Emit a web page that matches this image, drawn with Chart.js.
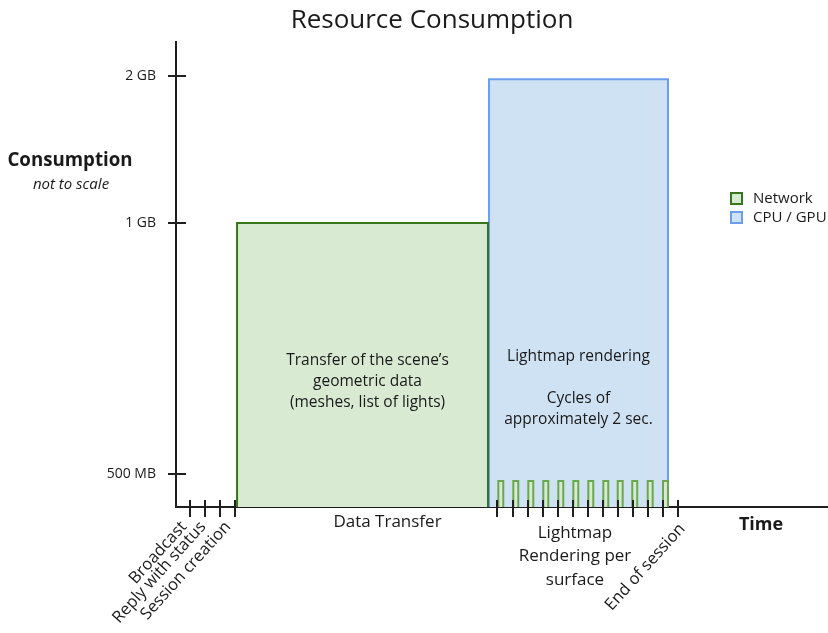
<!DOCTYPE html>
<html>
<head>
<meta charset="utf-8">
<title>Resource Consumption</title>
<script src="https://cdn.jsdelivr.net/npm/chart.js@4.4.1/dist/chart.umd.min.js"></script>
<style>
  html, body { margin: 0; padding: 0; background: #fff; }
  #wrap { width: 828px; height: 633px; position: relative; }
</style>
</head>
<body>
<div id="wrap"><canvas id="resourceChart"></canvas></div>
<script>
// y axis is "not to scale": values are drawing levels, labels say what they stand for
var levelTicks  = [0.71, 6.11, 9.27];
var levelLabels = ['500 MB', '1 GB', '2 GB'];

// time runs in arbitrary units
var transferSpan  = [4.07, 20.8];
var transferLevel = 6.11;
var renderSpan    = [20.87, 32.8];
var renderLevel   = 9.2;

var pulseStart = [21.49, 22.49, 23.49, 24.49, 25.49, 26.49, 27.49, 28.49, 29.45, 30.42, 31.45, 32.47];
var pulseEnd   = [21.82, 22.82, 23.82, 24.82, 25.82, 26.82, 27.82, 28.82, 29.78, 30.75, 31.78, 32.8];
var pulseLevel = 0.56;

var setupTicks  = [0.93, 1.93, 2.93, 3.93];
var renderTicks = [21.42, 22.45, 23.45, 24.47, 25.47, 26.47, 27.45, 28.47, 29.47, 30.47, 31.47, 32.47, 33.49];

var setupLabels   = ['Broadcast', 'Reply with status', 'Session creation'];
var endLabel      = 'End of session';
var transferLabel = 'Data Transfer';
var renderLabel   = ['Lightmap', 'Rendering per', 'surface'];
var transferNote  = ['Transfer of the scene\u2019s', 'geometric data', '(meshes, list of lights)'];
var renderNote    = ['Lightmap rendering', '', 'Cycles of', 'approximately 2 sec.'];
var seriesNames   = ['Network', 'CPU / GPU'];

var FONT = '"Open Sans", Lato, sans-serif';

function block(span, level) {
  return [
    {x: span[0], y: 0}, {x: span[0], y: level},
    {x: span[1], y: level}, {x: span[1], y: 0}
  ];
}

var pulsePoints = [];
for (var i = 0; i < pulseStart.length; i++) {
  pulsePoints = pulsePoints.concat(block([pulseStart[i], pulseEnd[i]], pulseLevel));
}

// everything that is not a mark: captions, tick marks, legend
var sketchText = {
  id: 'sketchText',
  afterDraw: function (chart) {
    var ctx = chart.ctx;
    var xs = chart.scales.x;
    var ys = chart.scales.y;
    var area = chart.chartArea;
    ctx.save();

    // tick marks crossing the axes
    ctx.strokeStyle = '#1f1f1f';
    ctx.lineWidth = 2;
    ctx.beginPath();
    levelTicks.forEach(function (v) {
      var py = Math.round(ys.getPixelForValue(v));
      ctx.moveTo(area.left - 8, py);
      ctx.lineTo(area.left + 10, py);
    });
    setupTicks.concat(renderTicks).forEach(function (v) {
      var px = Math.round(xs.getPixelForValue(v));
      ctx.moveTo(px, area.bottom - 7);
      ctx.lineTo(px, area.bottom + 10);
    });
    ctx.stroke();

    ctx.fillStyle = '#1a1a1a';
    ctx.textAlign = 'center';
    ctx.textBaseline = 'middle';

    // title
    ctx.font = '26px ' + FONT;
    ctx.fillText('Resource Consumption', 432, 21);

    // y caption
    ctx.font = 'bold 18.7px ' + FONT;
    ctx.fillText('Consumption', 70, 161);
    ctx.font = 'italic 15px ' + FONT;
    ctx.fillText('not to scale', 71, 185);

    // x caption
    ctx.font = 'bold 18px ' + FONT;
    ctx.fillText('Time', 761, 525);

    // phase labels under the axis
    ctx.font = '17px ' + FONT;
    ctx.fillText(transferLabel, xs.getPixelForValue(14.1), area.bottom + 15);
    renderLabel.forEach(function (t, k) {
      ctx.fillText(t, xs.getPixelForValue(26.6), area.bottom + 26 + k * 23.5);
    });

    // notes inside the blocks
    ctx.font = '15.5px ' + FONT;
    var gx = (xs.getPixelForValue(transferSpan[0]) + xs.getPixelForValue(transferSpan[1])) / 2 + 5;
    transferNote.forEach(function (t, k) {
      ctx.fillText(t, gx, 361 + k * 21);
    });
    var bx = (xs.getPixelForValue(renderSpan[0]) + xs.getPixelForValue(renderSpan[1])) / 2;
    renderNote.forEach(function (t, k) {
      ctx.fillText(t, bx, 357 + k * 20.7);
    });

    // rotated event labels
    ctx.font = '16.5px ' + FONT;
    var nudge = [-6, -2, 8];
    var rotated = setupLabels.map(function (t, k) {
      return {text: t, x: xs.getPixelForValue(setupTicks[k]) + nudge[k], y: area.bottom + 17};
    });
    rotated.push({text: endLabel, x: xs.getPixelForValue(renderTicks[renderTicks.length - 1]) + 4, y: area.bottom + 19});
    ctx.textAlign = 'right';
    rotated.forEach(function (r) {
      ctx.save();
      ctx.translate(r.x, r.y);
      ctx.rotate(-48 * Math.PI / 180);
      ctx.fillText(r.text, 0, 0);
      ctx.restore();
    });

    // legend
    ctx.textAlign = 'left';
    ctx.font = '15px ' + FONT;
    seriesNames.forEach(function (name, k) {
      var ds = chart.data.datasets[k];
      var top = 193 + k * 19;
      ctx.fillStyle = ds.backgroundColor;
      ctx.fillRect(731, top, 11, 11);
      ctx.strokeStyle = ds.borderColor;
      ctx.lineWidth = 2;
      ctx.strokeRect(731, top, 11, 11);
      ctx.fillStyle = '#1a1a1a';
      ctx.fillText(name, 753, top + 6);
    });

    ctx.restore();
  }
};

var ctx = document.getElementById('resourceChart').getContext('2d');
var resourceChart = new Chart(ctx, {
  type: 'line',
  data: {
    datasets: [
      {
        label: seriesNames[0],
        data: block(transferSpan, transferLevel),
        borderColor: '#38761d',
        backgroundColor: '#d9ead3',
        borderWidth: 2,
        fill: 'origin',
        order: 2
      },
      {
        label: seriesNames[1],
        data: block(renderSpan, renderLevel),
        borderColor: '#6d9eeb',
        backgroundColor: '#cfe2f3',
        borderWidth: 2,
        fill: 'origin',
        order: 3
      },
      {
        label: seriesNames[0],
        data: pulsePoints,
        borderColor: '#6aa84f',
        backgroundColor: '#d9ead3',
        borderWidth: 2,
        fill: 'origin',
        order: 1,
        segment: {
          // no outline along the baseline between two pulses
          borderColor: function (c) {
            return (c.p0.parsed.y === 0 && c.p1.parsed.y === 0) ? 'rgba(0,0,0,0)' : undefined;
          }
        }
      }
    ]
  },
  options: {
    responsive: true,
    maintainAspectRatio: false,
    animation: false,
    events: [],
    clip: false,
    elements: {
      point: { radius: 0 },
      line: { tension: 0 }
    },
    layout: { padding: { top: 42, left: 0, right: 0, bottom: 0 } },
    plugins: {
      legend: { display: false },
      tooltip: { enabled: false },
      title: { display: false }
    },
    scales: {
      x: {
        type: 'linear',
        min: 0,
        max: 43.47,
        z: 1,
        grid: { display: false, drawTicks: false },
        border: { display: true, color: '#1f1f1f', width: 2 },
        ticks: { display: false },
        afterFit: function (s) { s.height = 126; }
      },
      y: {
        type: 'linear',
        min: 0,
        max: 10,
        grid: { display: false, drawTicks: false },
        border: { display: true, color: '#1f1f1f', width: 2 },
        ticks: {
          padding: 20,
          color: '#1a1a1a',
          font: { family: FONT, size: 14 },
          callback: function (value, index) { return levelLabels[index]; }
        },
        afterBuildTicks: function (s) {
          s.ticks = levelTicks.map(function (v) { return {value: v}; });
        },
        afterFit: function (s) { s.width = 176; }
      }
    }
  },
  plugins: [sketchText]
});
</script>
</body>
</html>
